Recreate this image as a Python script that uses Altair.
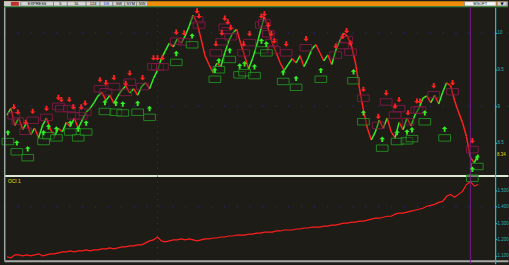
import altair as alt
import pandas as pd

# ---------------- values ----------------
price = [8.88, 8.97, 8.74, 8.84, 8.68, 8.78, 8.61, 8.70, 8.57, 8.74,
         8.84, 8.68, 8.59, 8.70, 8.65, 8.78, 8.72, 8.84, 8.70, 8.81,
         8.92, 8.97, 9.05, 9.14, 9.19, 9.08, 9.15, 9.04, 9.14, 9.22,
         9.28, 9.18, 9.24, 9.15, 9.27, 9.32, 9.24, 9.38, 9.49, 9.65,
         9.76, 9.86, 9.81, 9.92, 9.86, 9.96, 10.09, 10.24, 10.14, 9.92,
         9.69, 9.57, 9.46, 9.59, 9.54, 9.73, 9.89, 10.00, 10.05, 9.86,
         9.69, 9.51, 9.65, 9.82, 10.03, 10.22, 10.05, 9.86, 9.73, 9.59,
         9.49, 9.57, 9.65, 9.59, 9.69, 9.54, 9.65, 9.78, 9.84, 9.73,
         9.62, 9.70, 9.57, 9.76, 9.89, 10.00, 9.95, 9.82, 9.59, 9.24,
         8.95, 8.70, 8.54, 8.65, 8.81, 8.70, 8.84, 8.65, 8.57, 8.78,
         8.68, 8.84, 8.73, 8.88, 8.97, 9.11, 9.14, 9.05, 9.15, 9.03,
         9.19, 9.32, 9.28, 9.08, 8.92, 8.78, 8.59, 8.30, 8.23, 8.34]

osc = [1.094, 1.088, 1.106, 1.106, 1.100, 1.106, 1.100, 1.106, 1.112, 1.100,
       1.106, 1.112, 1.112, 1.118, 1.124, 1.124, 1.130, 1.124, 1.130, 1.130,
       1.136, 1.130, 1.136, 1.136, 1.142, 1.142, 1.148, 1.142, 1.148, 1.155,
       1.155, 1.161, 1.161, 1.167, 1.167, 1.179, 1.191, 1.197, 1.215, 1.191,
       1.185, 1.191, 1.197, 1.197, 1.203, 1.197, 1.203, 1.197, 1.191, 1.197,
       1.203, 1.203, 1.209, 1.209, 1.215, 1.215, 1.221, 1.221, 1.227, 1.227,
       1.227, 1.233, 1.233, 1.239, 1.239, 1.245, 1.245, 1.245, 1.252, 1.252,
       1.258, 1.258, 1.258, 1.264, 1.264, 1.270, 1.270, 1.276, 1.276, 1.276,
       1.282, 1.282, 1.288, 1.288, 1.294, 1.300, 1.300, 1.306, 1.306, 1.312,
       1.312, 1.318, 1.324, 1.330, 1.330, 1.336, 1.342, 1.342, 1.355, 1.361,
       1.361, 1.367, 1.373, 1.379, 1.385, 1.391, 1.403, 1.409, 1.415, 1.427,
       1.433, 1.464, 1.476, 1.458, 1.476, 1.494, 1.536, 1.555, 1.527, 1.536]

red_i = [1.75, 2.75, 4.75, 6.5, 10, 13, 13.75, 15.75, 16.75, 18.75,
         19.75, 23.5, 25, 27, 30, 31, 34.25, 37, 38, 39.25,
         42.75, 44.75, 48, 48.5, 52.75, 54.25, 55, 55.75, 56.5, 59.75,
         61.25, 64.25, 65, 66, 66.75, 67.5, 70.5, 75.5, 83, 84.75,
         85.75, 86.75, 90, 93.75, 95.75, 98, 99, 101.25, 103.5, 104.25,
         107.75, 112.5, 117.5]
red_p = [8.99, 8.92, 8.78, 8.93, 8.97, 9.12, 9.09, 9.09, 8.99, 8.99,
         9.04, 9.36, 9.32, 9.39, 9.31, 9.45, 9.39, 9.66, 9.66, 9.66,
         10.01, 10.00, 10.30, 10.23, 9.85, 10.00, 10.20, 10.15, 10.07, 9.85,
         9.99, 10.23, 10.26, 10.11, 9.99, 9.89, 9.85, 9.92, 9.82, 9.95,
         10.03, 9.86, 9.23, 8.86, 9.18, 9.00, 9.09, 8.91, 9.07, 9.07,
         9.28, 9.32, 8.53]

green_i = [0.25, 2.5, 5.25, 9.25, 10.5, 12.5, 16, 18, 20, 24.75,
           27.5, 29.25, 33, 36, 42.75, 46.75, 52.5, 53.5, 56.25, 58.75,
           60, 62.5, 64.25, 65.5, 69.75, 73, 79.25, 87.5, 90, 94.75,
           98.5, 101, 102.25, 105.5, 110.5, 117.5, 118.75]
green_p = [8.64, 8.50, 8.42, 8.64, 8.72, 8.69, 8.77, 8.69, 8.77, 9.05,
           9.04, 9.03, 9.04, 8.97, 9.72, 9.96, 9.49, 9.62, 9.76, 9.55,
           9.58, 9.54, 9.89, 9.85, 9.46, 9.38, 9.49, 9.47, 8.91, 8.55,
           8.64, 8.65, 8.68, 8.91, 8.69, 8.14, 8.30]

price_ticks = [8.5, 9, 9.5, 10]
osc_ticks = [1.1, 1.2, 1.3, 1.4, 1.5]
price_grid = [9, 10]
osc_grid = [1.4]
marker_bar = 38
cursor_bar = 117
tool_labels = ["EXPRESS", "5", "5L", "124", "DS", "SW", "SYM", "NW"]
symbol_label = "MSOFT"
pane_label = "OCI 1"

# ---------------- styling / layout ----------------
BG = "#1d1c17"
W = 509
H_TB, H_UP, H_LO = 6, 170, 89
GREEN = "#33ee22"
RED = "#ff2222"
CYAN = "#19c9d2"
DOT = "#2233aa"
PURPLE = "#7a1c8c"
FONT = "Liberation Sans"

BOX = "M-1,-0.55L1,-0.55L1,0.55L-1,0.55Z"
DOWN = "M-0.35,-1L0.35,-1L0.35,0L1,0L0,1L-1,0L-0.35,0Z"
UP = "M-0.35,1L0.35,1L0.35,0L1,0L0,-1L-1,0L-0.35,0Z"

n = len(price)
idx = list(range(n))
seg = pd.DataFrame({
    "i": idx[:-1], "p": price[:-1], "i2": idx[1:], "p2": price[1:],
    "d": ["up" if b >= a else "down" for a, b in zip(price[:-1], price[1:])],
})
osc_df = pd.DataFrame({"i": idx, "v": osc})
red_df = pd.DataFrame({"i": red_i, "p": red_p})
green_df = pd.DataFrame({"i": green_i, "p": green_p})
one = pd.DataFrame({"k": [0]})

xs = alt.Scale(domain=[-0.75, 126.5], nice=False, zero=False)


def right_axis(values, fmt):
    return alt.Axis(orient="right", offset=-13, values=values, format=fmt,
                    labelColor="#2bb5ba", labelFont=FONT, labelFontSize=4.5,
                    labelPadding=0.5, tickColor=CYAN, tickSize=1.5,
                    domainColor=CYAN, domainWidth=1.2, grid=False, title=None)


# ---------- upper (price) pane ----------
x_up = alt.X("i:Q", scale=xs, axis=alt.Axis(
    orient="bottom", labels=False, ticks=False, grid=False,
    domainColor="#dde8d6", domainWidth=2, title=None))
y_up = alt.Y("p:Q", scale=alt.Scale(domain=[8.054, 10.351], nice=False, zero=False),
             axis=right_axis(price_ticks, "~g"))

up_grid = alt.Chart(pd.DataFrame({"p": price_grid})).mark_rule(
    color=DOT, strokeDash=[1, 12], strokeWidth=1).encode(y=y_up)
up_vline = alt.Chart(pd.DataFrame({"i": [marker_bar]})).mark_rule(
    color=DOT, strokeDash=[1, 5], strokeWidth=1).encode(x=x_up)
up_line = alt.Chart(seg).mark_rule(strokeWidth=1.5).encode(
    x=x_up, x2="i2:Q", y=y_up, y2="p2:Q",
    color=alt.Color("d:N", scale=alt.Scale(domain=["up", "down"], range=[GREEN, RED]), legend=None))
up_cursor = alt.Chart(pd.DataFrame({"i": [cursor_bar]})).mark_rule(
    color=PURPLE, strokeWidth=1).encode(x=x_up)
g_box = alt.Chart(green_df).mark_point(
    shape=BOX, size=140, fill=BG, fillOpacity=0.5, stroke="#24a024",
    strokeWidth=0.8, opacity=1, yOffset=9).encode(x=x_up, y=y_up)
r_box = alt.Chart(red_df).mark_point(
    shape=BOX, size=140, fill=BG, fillOpacity=0.3, stroke="#8e1a4c",
    strokeWidth=0.8, opacity=1, yOffset=9).encode(x=x_up, y=y_up)
g_arr = alt.Chart(green_df).mark_point(
    shape=UP, size=30, filled=True, color=GREEN, opacity=1).encode(x=x_up, y=y_up)
r_arr = alt.Chart(red_df).mark_point(
    shape=DOWN, size=30, filled=True, color=RED, opacity=1).encode(x=x_up, y=y_up)
last_lbl = alt.Chart(pd.DataFrame({"p": [price[-1]], "t": [f"{price[-1]:.2f}"]})).mark_text(
    align="left", baseline="middle", font=FONT, fontSize=4.5, color="#e6d800").encode(
    x=alt.value(498), y=y_up, text="t:N")
left_edge = alt.Chart(one).mark_rule(color="#9aa8a8", strokeWidth=1.5).encode(
    x=alt.value(0.75), y=alt.value(0), y2=alt.value(H_UP))

upper = alt.layer(up_grid, up_vline, up_line, up_cursor, r_box, g_box, r_arr, g_arr,
                  last_lbl, left_edge).properties(width=W, height=H_UP)

# ---------- lower (oscillator) pane ----------
x_lo = alt.X("i:Q", scale=xs, axis=alt.Axis(
    orient="bottom", offset=-3, labels=False, ticks=False, grid=False,
    domainColor="#a8a8a8", domainWidth=2, title=None))
y_lo = alt.Y("v:Q", scale=alt.Scale(domain=[1.0515, 1.5909], nice=False, zero=False),
             axis=right_axis(osc_ticks, ".3f"))

lo_grid = alt.Chart(pd.DataFrame({"v": osc_grid})).mark_rule(
    color=DOT, strokeDash=[1, 12], strokeWidth=1).encode(y=y_lo)
lo_vline = alt.Chart(pd.DataFrame({"i": [marker_bar]})).mark_rule(
    color=DOT, strokeDash=[1, 5], strokeWidth=1).encode(x=x_lo)
lo_line = alt.Chart(osc_df).mark_line(color="#ff1e1e", strokeWidth=1.2).encode(x=x_lo, y=y_lo)
lo_cursor = alt.Chart(pd.DataFrame({"i": [cursor_bar]})).mark_rule(
    color=PURPLE, strokeWidth=1).encode(x=x_lo)
lo_label = alt.Chart(one).mark_text(
    align="left", baseline="middle", font=FONT, fontSize=5, color="#e6e000").encode(
    x=alt.value(4), y=alt.value(5), text=alt.value(pane_label))
lo_edge = alt.Chart(one).mark_rule(color="#9aa8a8", strokeWidth=1.5).encode(
    x=alt.value(0.75), y=alt.value(0), y2=alt.value(H_LO - 3))

lower = alt.layer(lo_grid, lo_vline, lo_line, lo_cursor, lo_label, lo_edge).properties(
    width=W, height=H_LO)

# ---------- toolbar ----------
edges = [17, 50, 64, 83, 97, 110, 122, 134, 145]
tb_df = pd.DataFrame({"x0": edges[:-1], "x1": edges[1:], "t": tool_labels,
                      "c": ["#000000"] * 4 + ["#1030d0"] + ["#000000"] * 3})
tb_df["xm"] = (tb_df["x0"] + tb_df["x1"]) / 2
txs = alt.Scale(domain=[0, W], nice=False, zero=False)

tb_orange = alt.Chart(one).mark_rect(color="#f08c0c").encode(
    x=alt.value(0), x2=alt.value(W), y=alt.value(0), y2=alt.value(5))
tb_gray = alt.Chart(one).mark_rect(color="#c8c8c8").encode(
    x=alt.value(0), x2=alt.value(145), y=alt.value(0), y2=alt.value(5))
tb_icon = alt.Chart(one).mark_rect(color="#c03030").encode(
    x=alt.value(7), x2=alt.value(15), y=alt.value(0.5), y2=alt.value(4.5))
tb_btn = alt.Chart(tb_df).mark_rect(fill="#d8d8d8", stroke="#6a6a6a", strokeWidth=0.6).encode(
    x=alt.X("x0:Q", scale=txs, axis=None), x2="x1:Q", y=alt.value(0.3), y2=alt.value(4.7))
tb_txt = alt.Chart(tb_df).mark_text(font=FONT, fontSize=4, baseline="middle").encode(
    x=alt.X("xm:Q", scale=txs, axis=None), y=alt.value(2.6), text="t:N",
    color=alt.Color("c:N", scale=None))
tb_sym = alt.Chart(one).mark_rect(fill="#f4f4f4", stroke="#6a6a6a", strokeWidth=0.6).encode(
    x=alt.value(465), x2=alt.value(497), y=alt.value(0.3), y2=alt.value(4.7))
tb_sym_t = alt.Chart(one).mark_text(font=FONT, fontSize=4, baseline="middle").encode(
    x=alt.value(481), y=alt.value(2.6), text=alt.value(symbol_label))
tb_drop = alt.Chart(one).mark_rect(fill="#d0d0d0", stroke="#6a6a6a", strokeWidth=0.6).encode(
    x=alt.value(498), x2=alt.value(508), y=alt.value(0.3), y2=alt.value(4.7))
tb_drop_t = alt.Chart(one).mark_text(font="DejaVu Sans", fontSize=4, baseline="middle").encode(
    x=alt.value(503), y=alt.value(2.6), text=alt.value("▼"))
tb_green = alt.Chart(one).mark_rule(color="#3c9a4c", strokeWidth=1).encode(
    x=alt.value(0), x2=alt.value(W), y=alt.value(5.5))

toolbar = alt.layer(tb_orange, tb_gray, tb_icon, tb_btn, tb_txt, tb_sym, tb_sym_t,
                    tb_drop, tb_drop_t, tb_green).properties(width=W, height=H_TB)

chart = alt.vconcat(toolbar, upper, lower, spacing=0, bounds="flush").properties(
    background=BG, padding=0).configure_view(stroke=None)

chart.save("out.html", embed_options={"renderer": "svg", "actions": False})
